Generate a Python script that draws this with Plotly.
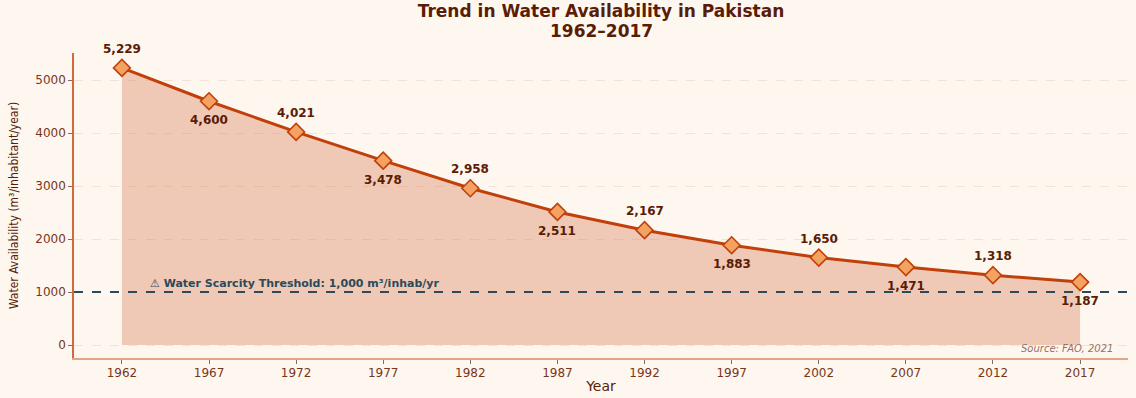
import plotly.graph_objects as go

years = [1962, 1967, 1972, 1977, 1982, 1987, 1992, 1997, 2002, 2007, 2012, 2017]
availability = [5229, 4600, 4021, 3478, 2958, 2511, 2167, 1883, 1650, 1471, 1318, 1187]
threshold = 1000
y_ticks = [0, 1000, 2000, 3000, 4000, 5000]

BG = "#fdf7f0"
LINE = "#c0400a"
DARK = "#5a1c05"
TICK = "#7a3518"

fig = go.Figure()

fig.add_trace(go.Scatter(
    x=years, y=availability, mode="lines", fill="tozeroy",
    fillcolor="rgba(214,110,62,0.33)",
    line=dict(color="rgba(214,120,80,0.35)", width=1),
    hoverinfo="skip", showlegend=False))

fig.add_trace(go.Scatter(
    x=years, y=availability, mode="lines+markers",
    line=dict(color=LINE, width=3),
    marker=dict(symbol="diamond", size=13, color="#f4a261",
                line=dict(color=LINE, width=1.6)),
    showlegend=False))

fig.add_hline(y=threshold, line=dict(color="#2b4a5a", width=2, dash="dash"))

for i, (x, y) in enumerate(zip(years, availability)):
    fig.add_annotation(x=x, y=y, text=f"{y:,}", showarrow=False,
                       yshift=19 if i % 2 == 0 else -19,
                       font=dict(family="DejaVu Sans", size=12, color=DARK, weight="bold"))

fig.add_annotation(x=1963.5, y=threshold, xanchor="left", yanchor="bottom", yshift=0,
                   text=f"⚠ Water Scarcity Threshold: {threshold:,} m³/inhab/yr",
                   showarrow=False,
                   font=dict(family="DejaVu Sans", size=11, color="#2b4a5a", weight="bold"))

fig.add_annotation(xref="paper", yref="paper", x=0.988, y=0.005, xanchor="right", yanchor="bottom",
                   text="<i>Source: FAO, 2021</i>", showarrow=False,
                   font=dict(family="DejaVu Sans", size=10, color="#9a7060"))

# second title line
fig.add_annotation(xref="paper", yref="paper", x=0.5, y=1, yshift=22, yanchor="middle",
                   text=f"{years[0]}–{years[-1]}", showarrow=False,
                   font=dict(family="DejaVu Sans", size=17, color=DARK, weight="bold"))

fig.update_layout(
    width=1136, height=398,
    paper_bgcolor=BG, plot_bgcolor=BG,
    margin=dict(l=74, r=8, t=53, b=40),
    title=dict(text="Trend in Water Availability in Pakistan",
               x=0.5, xref="paper", y=1 - 11 / 398, yref="container", yanchor="middle",
               font=dict(family="DejaVu Sans", size=17, color=DARK, weight="bold")),
    xaxis=dict(range=[1959.25, 2019.75], tickvals=years, showgrid=False, zeroline=False,
               showline=True, linecolor="#e3a487", linewidth=1.5, automargin=False,
               ticks="outside", ticklen=4, tickcolor="#8a6a5a", ticklabelstandoff=-1,
               tickfont=dict(family="DejaVu Sans", size=12, color=TICK),
               title=dict(text="Year", standoff=2,
                          font=dict(family="DejaVu Sans", size=14, color=DARK))),
    yaxis=dict(range=[-245, 5510], tickvals=y_ticks, showgrid=True, automargin=False,
               gridcolor="#f3e3d4", griddash="dash", gridwidth=1, zeroline=False,
               showline=True, linecolor="#d2693c", linewidth=1.5,
               ticks="outside", ticklen=4, tickcolor="#8a6a5a",
               tickfont=dict(family="DejaVu Sans", size=12, color=TICK),
               title=dict(text="Water Availability (m³/inhabitant/year)", standoff=14,
                          font=dict(family="DejaVu Sans Condensed", size=12, color=DARK))),
)

fig.write_html("out.html", config={"displayModeBar": False},
               post_script="document.body.style.margin='0';document.body.style.background='" + BG + "';")
